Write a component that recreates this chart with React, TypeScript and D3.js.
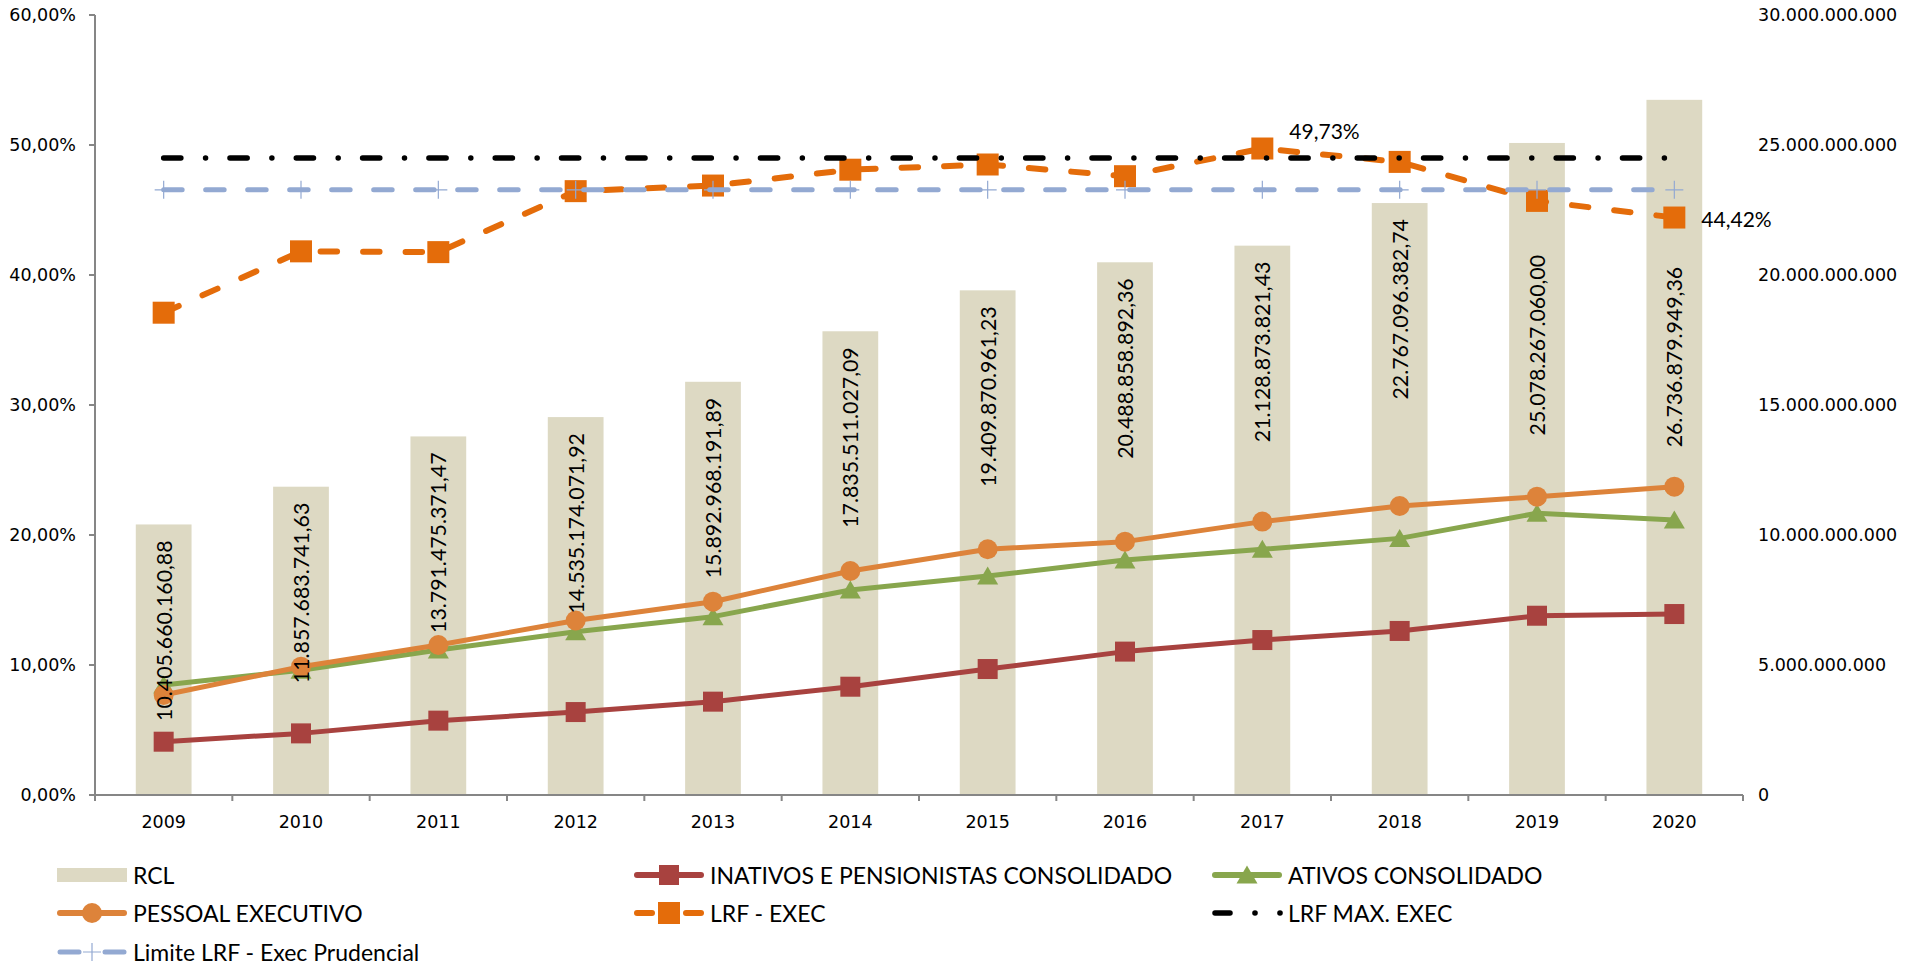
import React from 'react';
import * as d3 from 'd3';

const years = ['2009', '2010', '2011', '2012', '2013', '2014', '2015', '2016', '2017', '2018', '2019', '2020'];
const rcl = [
  10405660160.88, 11857683741.63, 13791475371.47, 14535174071.92, 15892968191.89, 17835511027.09,
  19409870961.23, 20488858892.36, 21128873821.43, 22767096382.74, 25078267060.0, 26736879949.36,
];
const inativos = [4.1, 4.74, 5.72, 6.38, 7.18, 8.33, 9.69, 11.03, 11.92, 12.62, 13.79, 13.92];
const ativos = [8.46, 9.6, 11.15, 12.56, 13.72, 15.77, 16.85, 18.08, 18.9, 19.74, 21.67, 21.15];
const pessoal = [7.69, 9.87, 11.54, 13.42, 14.87, 17.23, 18.9, 19.49, 21.03, 22.23, 22.95, 23.72];
const lrfExec = [37.1, 41.82, 41.76, 46.45, 46.88, 48.1, 48.5, 47.6, 49.73, 48.7, 45.7, 44.42];
const lrfMax = [49, 49, 49, 49, 49, 49, 49, 49, 49, 49, 49, 49];
const lrfPrud = [46.55, 46.55, 46.55, 46.55, 46.55, 46.55, 46.55, 46.55, 46.55, 46.55, 46.55, 46.55];
const leftTicks = [0, 10, 20, 30, 40, 50, 60];
const rightTicks = [0, 5e9, 10e9, 15e9, 20e9, 25e9, 30e9];
const lrfLabelYears = ['2017', '2020'];

const W = 1923;
const H = 966;
const C = {
  bar: '#DDD9C3',
  red: '#A8423F',
  green: '#88A64D',
  orange: '#DD833A',
  lrf: '#E46C0A',
  black: '#000000',
  blue: '#93A9D2',
  axis: '#868686',
};
const AXIS_FONT = '"DejaVu Sans", Verdana, sans-serif';
const LABEL_FONT = 'Lato, "Noto Sans", sans-serif';
const AXIS_SIZE = 17.5;

const locale = d3.formatLocale({ decimal: ',', thousands: '.', grouping: [3], currency: ['R$', ''] });
const fmtPct = (v: number) => locale.format('.2f')(v) + '%';
const fmtInt = locale.format(',.0f');
const fmtMoney = locale.format(',.2f');

const x = d3.scaleBand<string>().domain(years).range([95, 1743]).padding(0);
const cx = (i: number) => (x(years[i]) as number) + x.bandwidth() / 2;
const y = d3.scaleLinear().domain([0, 60]).range([795, 15]);
const y2 = d3.scaleLinear().domain([0, 30e9]).range([795, 15]);
const barW = x.bandwidth() * 0.406;

const lineGen = d3
  .line<number>()
  .x((_, i) => cx(i))
  .y((d) => y(d));

const triPath = 'M0,-9.5 L10.5,8.5 L-10.5,8.5 Z';
const plusPath = 'M-9,0 H9 M0,-9 V9';

function Square({ x0, y0, s, fill }: { x0: number; y0: number; s: number; fill: string }) {
  return <rect x={x0 - s / 2} y={y0 - s / 2} width={s} height={s} fill={fill} />;
}

export default function App() {
  // label offsets below bar top (Excel inside-end, with two labels moved manually)
  const labelOffset = (i: number) => (years[i] === '2019' ? 112 : years[i] === '2020' ? 167 : 16);

  const legendCols = [57, 634, 1212];
  const legendRows = [875, 913, 952];
  const symW = 70;

  const legendItems = [
    { name: 'RCL', col: 0, row: 0, kind: 'bar' },
    { name: 'INATIVOS E PENSIONISTAS CONSOLIDADO', col: 1, row: 0, kind: 'red' },
    { name: 'ATIVOS CONSOLIDADO', col: 2, row: 0, kind: 'green' },
    { name: 'PESSOAL EXECUTIVO', col: 0, row: 1, kind: 'orange' },
    { name: 'LRF - EXEC', col: 1, row: 1, kind: 'lrf' },
    { name: 'LRF MAX. EXEC', col: 2, row: 1, kind: 'max' },
    { name: 'Limite LRF - Exec Prudencial', col: 0, row: 2, kind: 'prud' },
  ];

  const renderSymbol = (kind: string, sx: number, sy: number) => {
    const mid = sx + symW / 2;
    switch (kind) {
      case 'bar':
        return <rect x={sx} y={sy - 7} width={symW} height={14} fill={C.bar} />;
      case 'red':
        return (
          <g>
            <line x1={sx + 3} x2={sx + symW - 3} y1={sy} y2={sy} stroke={C.red} strokeWidth={6} strokeLinecap="round" />
            <Square x0={mid} y0={sy} s={20} fill={C.red} />
          </g>
        );
      case 'green':
        return (
          <g>
            <line x1={sx + 3} x2={sx + symW - 3} y1={sy} y2={sy} stroke={C.green} strokeWidth={6} strokeLinecap="round" />
            <path d={triPath} transform={`translate(${mid},${sy})`} fill={C.green} />
          </g>
        );
      case 'orange':
        return (
          <g>
            <line x1={sx + 3} x2={sx + symW - 3} y1={sy} y2={sy} stroke={C.orange} strokeWidth={6} strokeLinecap="round" />
            <circle cx={mid} cy={sy} r={10} fill={C.orange} />
          </g>
        );
      case 'lrf':
        return (
          <g>
            <line x1={sx + 3} x2={sx + 18} y1={sy} y2={sy} stroke={C.lrf} strokeWidth={6} strokeLinecap="round" />
            <line x1={sx + symW - 18} x2={sx + symW - 3} y1={sy} y2={sy} stroke={C.lrf} strokeWidth={6} strokeLinecap="round" />
            <Square x0={mid} y0={sy} s={22} fill={C.lrf} />
          </g>
        );
      case 'max':
        return (
          <g>
            <line x1={sx + 3} x2={sx + 18} y1={sy} y2={sy} stroke={C.black} strokeWidth={5.5} strokeLinecap="round" />
            <circle cx={sx + 43} cy={sy} r={2.8} fill={C.black} />
            <circle cx={sx + 68} cy={sy} r={2.8} fill={C.black} />
          </g>
        );
      case 'prud':
        return (
          <g>
            <line x1={sx + 3} x2={sx + 22} y1={sy} y2={sy} stroke={C.blue} strokeWidth={5} strokeLinecap="round" />
            <line x1={sx + symW - 22} x2={sx + symW - 3} y1={sy} y2={sy} stroke={C.blue} strokeWidth={5} strokeLinecap="round" />
            <path d={plusPath} transform={`translate(${mid},${sy})`} stroke={C.blue} strokeWidth={1.2} fill="none" />
          </g>
        );
      default:
        return null;
    }
  };

  const boundaries = years.map((yr) => x(yr) as number).concat([x.range()[1]]);

  return (
    <svg
      width={W}
      height={H}
      viewBox={`0 0 ${W} ${H}`}
      style={{ position: 'absolute', left: 0, top: 0, display: 'block', background: '#fff' }}
    >
      <rect x={0} y={0} width={W} height={H} fill="#fff" />

      {/* RCL bars */}
      {rcl.map((v, i) => (
        <rect key={'b' + i} x={cx(i) - barW / 2} y={y2(v)} width={barW} height={y2(0) - y2(v)} fill={C.bar} />
      ))}

      {/* axes */}
      <line x1={95} x2={95} y1={15} y2={795} stroke={C.axis} strokeWidth={2} />
      {leftTicks.map((t) => (
        <g key={'lt' + t}>
          <line x1={89} x2={95} y1={y(t)} y2={y(t)} stroke={C.axis} strokeWidth={2} />
          <text x={76} y={y(t)} textAnchor="end" dominantBaseline="central" fontFamily={AXIS_FONT} fontSize={AXIS_SIZE} fill="#000">
            {fmtPct(t)}
          </text>
        </g>
      ))}
      <line x1={94} x2={1743} y1={795} y2={795} stroke={C.axis} strokeWidth={2} />
      {boundaries.map((b, i) => (
        <line key={'xt' + i} x1={b} x2={b} y1={795} y2={801} stroke={C.axis} strokeWidth={2} />
      ))}
      {years.map((yr, i) => (
        <text key={'xl' + yr} x={cx(i)} y={822} textAnchor="middle" dominantBaseline="central" fontFamily={AXIS_FONT} fontSize={AXIS_SIZE} fill="#000">
          {yr}
        </text>
      ))}
      {rightTicks.map((t) => (
        <text key={'rt' + t} x={1758} y={y2(t)} textAnchor="start" dominantBaseline="central" fontFamily={AXIS_FONT} fontSize={AXIS_SIZE} fill="#000">
          {fmtInt(t)}
        </text>
      ))}

      {/* solid lines */}
      <path d={lineGen(inativos) as string} fill="none" stroke={C.red} strokeWidth={5} strokeLinejoin="round" />
      {inativos.map((v, i) => (
        <Square key={'rm' + i} x0={cx(i)} y0={y(v)} s={20} fill={C.red} />
      ))}
      <path d={lineGen(ativos) as string} fill="none" stroke={C.green} strokeWidth={5} strokeLinejoin="round" />
      {ativos.map((v, i) => (
        <path key={'gm' + i} d={triPath} transform={`translate(${cx(i)},${y(v)})`} fill={C.green} />
      ))}
      <path d={lineGen(pessoal) as string} fill="none" stroke={C.orange} strokeWidth={5} strokeLinejoin="round" />
      {pessoal.map((v, i) => (
        <circle key={'om' + i} cx={cx(i)} cy={y(v)} r={10} fill={C.orange} />
      ))}

      {/* LRF exec dashed */}
      <path
        d={lineGen(lrfExec) as string}
        fill="none"
        stroke={C.lrf}
        strokeWidth={6}
        strokeDasharray="16.5 26"
        strokeLinecap="round"
        strokeLinejoin="round"
      />
      {lrfExec.map((v, i) => (
        <Square key={'lm' + i} x0={cx(i)} y0={y(v)} s={22} fill={C.lrf} />
      ))}

      {/* LRF max dash-dot */}
      <path
        d={lineGen(lrfMax) as string}
        fill="none"
        stroke={C.black}
        strokeWidth={5.5}
        strokeDasharray="17.2 24.7 0.01 24.4"
        strokeLinecap="round"
      />

      {/* prudencial */}
      <path
        d={lineGen(lrfPrud) as string}
        fill="none"
        stroke={C.blue}
        strokeWidth={5}
        strokeDasharray="18.5 23.5"
        strokeLinecap="round"
      />
      {lrfPrud.map((v, i) => (
        <path key={'pm' + i} d={plusPath} transform={`translate(${cx(i)},${y(v)})`} stroke={C.blue} strokeWidth={1.2} fill="none" />
      ))}

      {/* RCL data labels */}
      {rcl.map((v, i) => {
        const ly = y2(v) + labelOffset(i);
        return (
          <text
            key={'bl' + i}
            x={cx(i)}
            y={ly}
            transform={`rotate(-90 ${cx(i)} ${ly})`}
            textAnchor="end"
            dominantBaseline="central"
            fontFamily={LABEL_FONT}
            fontSize={21.3}
            fill="#000"
          >
            {fmtMoney(v)}
          </text>
        );
      })}

      {/* LRF percentage labels */}
      {lrfLabelYears.map((yr) => {
        const i = years.indexOf(yr);
        const dy = yr === '2017' ? -18 : 1;
        return (
          <text
            key={'pl' + yr}
            x={cx(i) + 27}
            y={y(lrfExec[i]) + dy}
            textAnchor="start"
            dominantBaseline="central"
            fontFamily={LABEL_FONT}
            fontSize={21}
            fill="#000"
          >
            {fmtPct(lrfExec[i])}
          </text>
        );
      })}

      {/* legend */}
      {legendItems.map((it) => {
        const sx = legendCols[it.col];
        const sy = legendRows[it.row];
        return (
          <g key={'lg' + it.name}>
            {renderSymbol(it.kind, sx, sy)}
            <text
              x={sx + symW + 6}
              y={sy}
              dominantBaseline="central"
              fontFamily={LABEL_FONT}
              fontSize={23}
              fill="#000"
            >
              {it.name}
            </text>
          </g>
        );
      })}
    </svg>
  );
}
